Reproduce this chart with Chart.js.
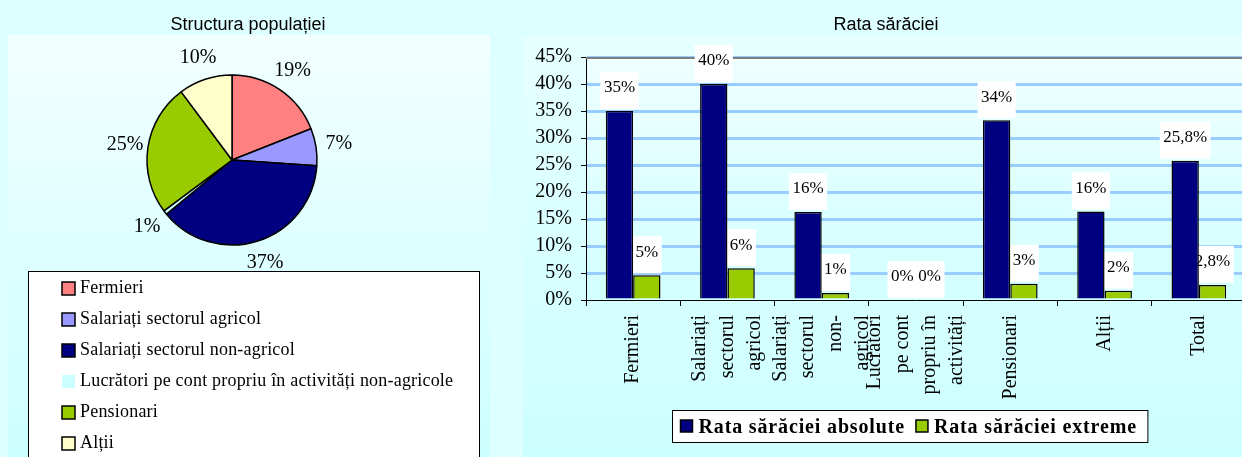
<!DOCTYPE html>
<html>
<head>
<meta charset="utf-8">
<script src="https://cdn.jsdelivr.net/npm/chart.js@4.4.1/dist/chart.umd.min.js"></script>
<style>
  html, body { margin: 0; padding: 0; }
  body { width: 1242px; height: 457px; overflow: hidden; position: relative; background: #DEFFFF; }
  #leftPanel { position: absolute; left: 8px; top: 35px; width: 482px; height: 422px; background: linear-gradient(to bottom, #F2FFFF, #CCFFFF); }
  #rightPanel { position: absolute; left: 523px; top: 37px; width: 719px; height: 420px; background: linear-gradient(to bottom, #E6FFFF, #CCFFFF); }
  #pie { position: absolute; left: 0; top: 0; }
  #bars { position: absolute; left: 526px; top: 0; }
</style>
</head>
<body>
<div id="leftPanel"></div>
<div id="rightPanel"></div>
<canvas id="pie" width="500" height="457"></canvas>
<canvas id="bars" width="720" height="457"></canvas>
<script>
const serif = '"Liberation Serif", "Times New Roman", serif'
const sans = '"Liberation Sans", Arial, sans-serif'

// left chart: population structure
const pieLabels = ['Fermieri', 'Salariați sectorul agricol', 'Salariați sectorul non-agricol', 'Lucrători pe cont propriu în activități non-agricole', 'Pensionari', 'Alții']
const pieValues = [19.0, 7.1, 37.9, 0.8, 25.0, 10.2]
const pieText = ['19%', '7%', '37%', '1%', '25%', '10%']
const pieColors = ['#FF8080', '#9999FF', '#000080', '#CCFFFF', '#99CC00', '#FFFFCC']

// right chart: poverty rate
const categories = [
  ['Fermieri'],
  ['Salariați', 'sectorul', 'agricol'],
  ['Salariați', 'sectorul', 'non-', 'agricol'],
  ['Lucrători', 'pe cont', 'propriu în', 'activități'],
  ['Pensionari'],
  ['Alții'],
  ['Total']
]
const absValues = [35, 40, 16.3, 0, 33.3, 16.4, 25.8]
const extValues = [4.6, 5.9, 1.3, 0, 3.0, 1.7, 2.8]
const absText = ['35%', '40%', '16%', '0%', '34%', '16%', '25,8%']
const extText = ['5%', '6%', '1%', '0%', '3%', '2%', '2,8%']

const pieDeco = {
  id: 'pieDeco',
  afterDraw(chart) {
    const ctx = chart.ctx
    const meta = chart.getDatasetMeta(0)
    ctx.save()
    ctx.fillStyle = '#000'
    ctx.font = '20px ' + serif
    ctx.textAlign = 'center'
    ctx.textBaseline = 'middle'
    meta.data.forEach((arc, i) => {
      const mid = (arc.startAngle + arc.endAngle) / 2
      const d = arc.outerRadius + 23
      ctx.fillText(pieText[i], arc.x + Math.cos(mid) * d, arc.y + Math.sin(mid) * d)
    })

    ctx.font = '18px ' + sans
    ctx.textBaseline = 'alphabetic'
    ctx.fillText('Structura populației', 248, 30)

    // legend box under the pie
    ctx.fillStyle = '#fff'
    ctx.fillRect(28.5, 271.5, 451, 200)
    ctx.strokeStyle = '#000'
    ctx.lineWidth = 1
    ctx.strokeRect(28.5, 271.5, 451, 200)
    ctx.font = '18px ' + serif
    ctx.letterSpacing = '0.2px'
    ctx.textAlign = 'left'
    chart.data.labels.forEach((lab, i) => {
      const cy = 288.5 + i * 31
      ctx.fillStyle = chart.data.datasets[0].backgroundColor[i]
      ctx.fillRect(62, cy - 6.5, 13, 13)
      if (i !== 3) {
        ctx.lineWidth = 1.5
        ctx.strokeRect(62, cy - 6.5, 13, 13)
      }
      ctx.fillStyle = '#000'
      ctx.fillText(lab, 80, cy + 4)
    })
    ctx.restore()
  }
}

const barDeco = {
  id: 'barDeco',
  beforeDraw(chart) {
    const { ctx, chartArea: a } = chart
    const g = ctx.createLinearGradient(0, a.top, 0, a.bottom)
    g.addColorStop(0, '#EEFFFF')
    g.addColorStop(1, '#D2FFFF')
    ctx.save()
    ctx.fillStyle = g
    ctx.fillRect(a.left, a.top, a.right - a.left, a.bottom - a.top)
    ctx.restore()
  },
  beforeDatasetsDraw(chart) {
    const { ctx, chartArea: a } = chart
    ctx.save()
    ctx.strokeStyle = '#808080'
    ctx.lineWidth = 2
    ctx.beginPath()
    ctx.moveTo(a.left, a.top + 1)
    ctx.lineTo(a.right, a.top + 1)
    ctx.stroke()

    // value boxes above the bars
    ctx.font = '17px ' + serif
    ctx.textAlign = 'center'
    ctx.textBaseline = 'middle'
    ;[absText, extText].forEach((texts, di) => {
      chart.getDatasetMeta(di).data.forEach((bar, i) => {
        const w = ctx.measureText(texts[i]).width + 7
        const top = bar.y - 2 - 37
        ctx.fillStyle = '#fff'
        ctx.fillRect(bar.x - w / 2, top, w, 37)
        ctx.fillStyle = '#000'
        ctx.fillText(texts[i], bar.x, top + 16)
      })
    })
    ctx.restore()
  },
  afterDraw(chart) {
    const { ctx, chartArea: a } = chart
    const xs = chart.scales.x
    ctx.save()
    ctx.fillStyle = '#000'
    ctx.font = '18px ' + sans
    ctx.textAlign = 'center'
    ctx.textBaseline = 'alphabetic'
    ctx.fillText('Rata sărăciei', 360, 30)

    // rotated category labels, lines centred on the category
    ctx.font = '20px ' + serif
    ctx.textAlign = 'right'
    ctx.textBaseline = 'middle'
    categories.forEach((lines, i) => {
      const px = xs.getPixelForValue(i)
      lines.forEach((t, j) => {
        ctx.save()
        ctx.translate(px + (j - (lines.length - 1) / 2) * 27.4, a.bottom + 15)
        ctx.rotate(-Math.PI / 2)
        ctx.fillText(t, 0, 0)
        ctx.restore()
      })
    })

    // legend
    ctx.font = 'bold 20px ' + serif
    ctx.letterSpacing = '0.85px'
    ctx.textAlign = 'left'
    ctx.textBaseline = 'alphabetic'
    const items = chart.data.datasets.map(ds => ({ text: ds.label, color: ds.backgroundColor, w: ctx.measureText(ds.label).width }))
    const total = 8 + items.reduce((s, it) => s + 18 + it.w + 11, 0)
    let x = Math.round(384 - total / 2) + 0.5
    ctx.fillStyle = '#fff'
    ctx.fillRect(x, 410.5, total, 32)
    ctx.strokeStyle = '#000'
    ctx.lineWidth = 1
    ctx.strokeRect(x, 410.5, total, 32)
    x += 8
    items.forEach(it => {
      ctx.fillStyle = it.color
      ctx.fillRect(x, 420, 12, 12)
      ctx.lineWidth = 1.5
      ctx.strokeRect(x, 420, 12, 12)
      ctx.fillStyle = '#000'
      ctx.fillText(it.text, x + 18, 433)
      x += 18 + it.w + 11
    })
    ctx.restore()
  }
}

new Chart(document.getElementById('pie'), {
  type: 'pie',
  data: {
    labels: pieLabels,
    datasets: [{ data: pieValues, backgroundColor: pieColors, borderColor: '#000', borderWidth: 1.5, radius: 85 }]
  },
  options: {
    responsive: false,
    animation: false,
    events: [],
    layout: { padding: { left: 132, right: 168, top: 60, bottom: 197 } },
    plugins: { legend: { display: false }, tooltip: { enabled: false } }
  },
  plugins: [pieDeco]
})

new Chart(document.getElementById('bars'), {
  type: 'bar',
  data: {
    labels: categories.map(c => c.join(' ')),
    datasets: [
      { label: 'Rata sărăciei absolute', data: absValues, backgroundColor: '#000080', borderColor: '#000', borderWidth: 1.5 },
      { label: 'Rata sărăciei extreme', data: extValues, backgroundColor: '#99CC00', borderColor: '#000', borderWidth: 1.5 }
    ]
  },
  options: {
    responsive: false,
    animation: false,
    events: [],
    layout: { padding: { top: 57, left: 0, right: 0, bottom: 0 } },
    datasets: { bar: { barPercentage: 1, categoryPercentage: 0.58 } },
    plugins: { legend: { display: false }, title: { display: false }, tooltip: { enabled: false } },
    scales: {
      x: {
        grid: { offset: true, drawOnChartArea: false, color: '#000', tickLength: 6, lineWidth: 1 },
        border: { color: '#000', width: 1 },
        ticks: { display: false },
        afterFit: s => { s.height = 157 }
      },
      y: {
        min: 0,
        max: 45,
        ticks: { stepSize: 5, callback: v => v + '%', color: '#000', font: { family: serif, size: 20 }, padding: 9 },
        grid: {
          color: c => (c.tick && c.tick.value === 0 ? 'rgba(0,0,0,0)' : '#99CCFF'),
          lineWidth: 3,
          tickColor: '#000',
          tickWidth: 1,
          tickLength: 5
        },
        border: { color: '#000', width: 1 },
        afterFit: s => { s.width = 60 }
      }
    }
  },
  plugins: [barDeco]
})
</script>
</body>
</html>
